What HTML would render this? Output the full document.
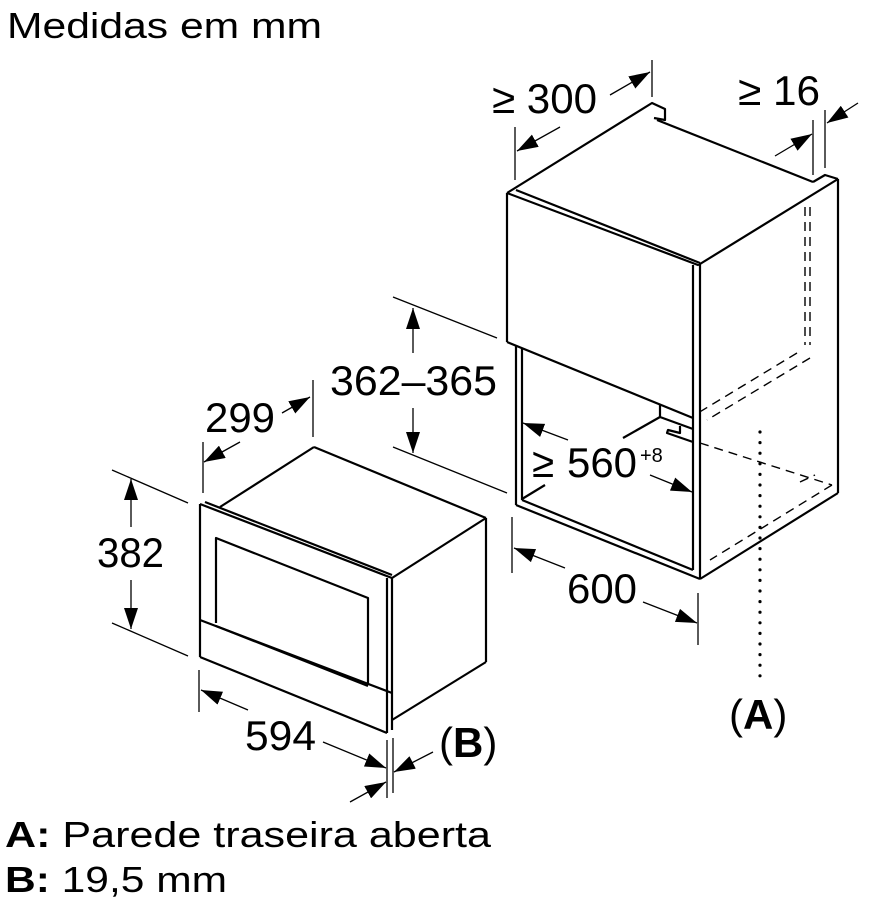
<!DOCTYPE html>
<html><head><meta charset="utf-8"><style>
html,body{margin:0;padding:0;background:#fff;}
svg{display:block;}
text{font-family:"Liberation Sans",Arial,sans-serif;fill:#000;}
</style></head><body>
<svg width="890" height="906" viewBox="0 0 890 906" xmlns="http://www.w3.org/2000/svg">
<defs>
<marker id="a" markerUnits="userSpaceOnUse" markerWidth="22" markerHeight="14" refX="21" refY="7" orient="auto">
<path d="M0,0 L21,7 L0,14 z" fill="#000"/>
</marker>
</defs>

<text x="7" y="38" font-size="36" textLength="315" lengthAdjust="spacingAndGlyphs">Medidas em mm</text>

<!-- ================= CABINET ================= -->
<g fill="none" stroke="#000" stroke-width="2.2" stroke-linejoin="round">
  <polyline points="507,193 652,103 665,109 665,120 654,118"/>
  <line x1="657" y1="120" x2="813" y2="182"/>
  <polyline points="813,182 825,175 838,179"/>
  <line x1="516" y1="190" x2="700" y2="263"/>
  <line x1="700" y1="264" x2="838" y2="179"/>
  <polyline points="507,193 698,265 698,264"/>
  <line x1="507" y1="193" x2="507" y2="342"/>
  <line x1="507" y1="342" x2="693" y2="418"/>
  <line x1="838" y1="179" x2="838" y2="493"/>
  <line x1="838" y1="493" x2="700" y2="579"/>
  <line x1="700" y1="263" x2="700" y2="579"/>
  <line x1="693" y1="265" x2="693" y2="570"/>
  <line x1="516" y1="345" x2="516" y2="505"/>
  <line x1="522" y1="348" x2="522" y2="500"/>
  <line x1="516" y1="505" x2="700" y2="579"/>
  <line x1="522" y1="500" x2="693" y2="570"/>
  <line x1="522" y1="499" x2="545" y2="485"/>
  <polyline points="660,405 660,417 693,429"/>
  <line x1="660" y1="417" x2="623" y2="438"/>
  <polyline points="680,426 680,433 668,430 667,433 693,442"/>
</g>
<g fill="none" stroke="#000" stroke-width="1.4" stroke-dasharray="9,6">
  <line x1="805" y1="207" x2="805" y2="345"/>
  <line x1="810" y1="207" x2="810" y2="345"/>
  <line x1="797" y1="353" x2="698" y2="413"/>
  <line x1="810" y1="358" x2="707" y2="420"/>
  <line x1="700" y1="443" x2="832" y2="485"/>
  <line x1="832" y1="485" x2="710" y2="560"/>
  <line x1="800" y1="482" x2="815" y2="475"/>
</g>
<line x1="760" y1="432" x2="760" y2="686" stroke="#000" stroke-width="3.2" stroke-linecap="round" stroke-dasharray="0,10.6"/>

<g stroke="#000" stroke-width="1.3" fill="none">
  <line x1="515" y1="127" x2="515" y2="180"/>
  <line x1="652" y1="60" x2="652" y2="97"/>
  <line x1="560" y1="127" x2="517" y2="151" marker-end="url(#a)"/>
  <line x1="610" y1="95" x2="650" y2="72" marker-end="url(#a)"/>
  <line x1="813" y1="120" x2="813" y2="175"/>
  <line x1="825" y1="110" x2="825" y2="168"/>
  <line x1="775" y1="156" x2="812" y2="134" marker-end="url(#a)"/>
  <line x1="858" y1="103" x2="827" y2="123" marker-end="url(#a)"/>
  <line x1="568" y1="440" x2="523" y2="423" marker-end="url(#a)"/>
  <line x1="650" y1="475" x2="692" y2="492" marker-end="url(#a)"/>
  <line x1="512" y1="517" x2="512" y2="573"/>
  <line x1="698" y1="593" x2="698" y2="645"/>
  <line x1="565" y1="568" x2="514" y2="548" marker-end="url(#a)"/>
  <line x1="643" y1="602" x2="697" y2="623" marker-end="url(#a)"/>
  <line x1="393" y1="297" x2="497" y2="338"/>
  <line x1="393" y1="447" x2="507" y2="493"/>
  <line x1="413" y1="353" x2="413" y2="308" marker-end="url(#a)"/>
  <line x1="413" y1="408" x2="413" y2="453" marker-end="url(#a)"/>
</g>
<text x="492" y="113" font-size="42" textLength="105" lengthAdjust="spacingAndGlyphs">≥ 300</text>
<text x="738" y="105" font-size="42" textLength="82" lengthAdjust="spacingAndGlyphs">≥ 16</text>
<text x="532" y="477" font-size="42" textLength="22" lengthAdjust="spacingAndGlyphs">≥</text>
<text x="567" y="477" font-size="42" textLength="70" lengthAdjust="spacingAndGlyphs">560</text>
<text x="640" y="462" font-size="20">+8</text>
<text x="567" y="603" font-size="42" textLength="70" lengthAdjust="spacingAndGlyphs">600</text>
<text x="330" y="395" font-size="42" textLength="167" lengthAdjust="spacingAndGlyphs">362–365</text>
<text x="729" y="729" font-size="42">(<tspan font-weight="bold">A</tspan>)</text>

<!-- ================= MICROWAVE ================= -->
<g fill="none" stroke="#000" stroke-width="2.2" stroke-linejoin="round">
  <line x1="200" y1="504" x2="392" y2="578"/>
  <line x1="205" y1="502" x2="392" y2="575"/>
  <line x1="200" y1="504" x2="200" y2="657"/>
  <line x1="200" y1="657" x2="387" y2="733"/>
  <line x1="387" y1="578" x2="387" y2="733"/>
  <line x1="392" y1="578" x2="392" y2="730"/>
  <line x1="220" y1="507" x2="314" y2="447"/>
  <line x1="314" y1="447" x2="486" y2="518"/>
  <line x1="392" y1="578" x2="486" y2="518"/>
  <line x1="486" y1="518" x2="486" y2="662"/>
  <line x1="486" y1="662" x2="392" y2="720"/>
  <polyline points="216,623 216,538 368,598 368,685"/>
  <line x1="200" y1="620" x2="392" y2="693"/>
  <line x1="216" y1="626" x2="368" y2="686"/>
</g>
<g stroke="#000" stroke-width="1.3" fill="none">
  <line x1="203" y1="442" x2="203" y2="493"/>
  <line x1="313" y1="380" x2="313" y2="437"/>
  <line x1="240" y1="442" x2="204" y2="462" marker-end="url(#a)"/>
  <line x1="282" y1="413" x2="310" y2="397" marker-end="url(#a)"/>
  <line x1="112" y1="470" x2="188" y2="503"/>
  <line x1="112" y1="623" x2="188" y2="656"/>
  <line x1="131" y1="527" x2="131" y2="479" marker-end="url(#a)"/>
  <line x1="131" y1="580" x2="131" y2="629" marker-end="url(#a)"/>
  <line x1="199" y1="670" x2="199" y2="712"/>
  <line x1="387" y1="740" x2="387" y2="798"/>
  <line x1="393" y1="738" x2="393" y2="793"/>
  <line x1="248" y1="710" x2="201" y2="690" marker-end="url(#a)"/>
  <line x1="323" y1="742" x2="386" y2="768" marker-end="url(#a)"/>
  <line x1="433" y1="752" x2="394" y2="772" marker-end="url(#a)"/>
  <line x1="350" y1="802" x2="386" y2="782" marker-end="url(#a)"/>
</g>
<text x="205" y="432" font-size="42" textLength="70" lengthAdjust="spacingAndGlyphs">299</text>
<text x="97" y="567" font-size="42" textLength="67" lengthAdjust="spacingAndGlyphs">382</text>
<text x="245" y="750" font-size="42" textLength="71" lengthAdjust="spacingAndGlyphs">594</text>
<text x="439" y="757" font-size="42">(<tspan font-weight="bold">B</tspan>)</text>

<text x="5" y="847" font-size="36" textLength="486" lengthAdjust="spacingAndGlyphs"><tspan font-weight="bold">A:</tspan> Parede traseira aberta</text>
<text x="5" y="892" font-size="36" textLength="222" lengthAdjust="spacingAndGlyphs"><tspan font-weight="bold">B:</tspan> 19,5 mm</text>
</svg>
</body></html>
